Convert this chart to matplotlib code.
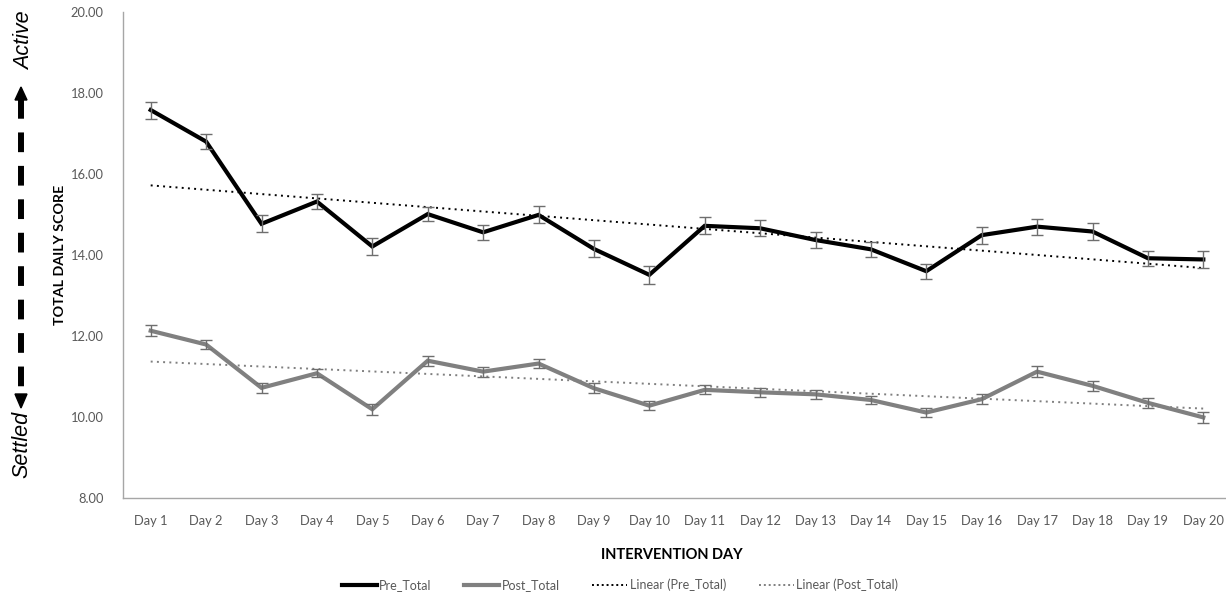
import numpy as np
import matplotlib
matplotlib.use("Agg")
import matplotlib.pyplot as plt
from matplotlib.lines import Line2D
from matplotlib.patches import Polygon

# Daily scores (mean) with standard error, by intervention day
days = [f"Day {i}" for i in range(1, 21)]
pre_total = [17.58, 16.80, 14.77, 15.32, 14.21, 15.01, 14.56, 14.99, 14.15, 13.51,
             14.72, 14.66, 14.37, 14.14, 13.60, 14.49, 14.70, 14.58, 13.92, 13.89]
pre_err = [0.21, 0.18, 0.21, 0.19, 0.20, 0.18, 0.19, 0.21, 0.21, 0.22,
           0.21, 0.20, 0.20, 0.19, 0.19, 0.21, 0.20, 0.20, 0.19, 0.22]
post_total = [12.13, 11.79, 10.72, 11.08, 10.19, 11.39, 11.12, 11.32, 10.71, 10.28,
              10.67, 10.61, 10.56, 10.42, 10.11, 10.44, 11.12, 10.77, 10.35, 9.99]
post_err = [0.13, 0.11, 0.12, 0.10, 0.13, 0.12, 0.12, 0.12, 0.12, 0.11,
            0.11, 0.11, 0.11, 0.11, 0.12, 0.12, 0.13, 0.12, 0.12, 0.13]
y_ticks = [8, 10, 12, 14, 16, 18, 20]

FONT = ["Lato", "DejaVu Sans"]
plt.rcParams["font.family"] = FONT

W, H = 1226, 598
fig = plt.figure(figsize=(W / 100, H / 100), dpi=100)
ax = fig.add_axes([123 / W, 100 / H, 1108 / W, 486 / H])


def fx(px):
    return px / W


def fy(py):
    return 1 - py / H


x = np.arange(1, len(days) + 1)

# Linear trend lines fitted to each series
pre_fit = np.polyval(np.polyfit(x, pre_total, 1), x)
post_fit = np.polyval(np.polyfit(x, post_total, 1), x)
ax.plot(x, pre_fit, color="black", lw=1.4, ls=(0, (1, 2.2)), zorder=2)
ax.plot(x, post_fit, color="#7f7f7f", lw=1.4, ls=(0, (1, 2.2)), zorder=2)

ax.plot(x, pre_total, color="black", lw=3, zorder=3, solid_joinstyle="miter")
ax.plot(x, post_total, color="#808080", lw=3, zorder=3, solid_joinstyle="miter")
ax.errorbar(x, pre_total, yerr=pre_err, fmt="none", ecolor="#6e6e6e",
            elinewidth=1, capsize=4, capthick=1, zorder=4)
ax.errorbar(x, post_total, yerr=post_err, fmt="none", ecolor="#6e6e6e",
            elinewidth=1, capsize=4, capthick=1, zorder=4)

ax.set_xlim(0.5, 20.5)
ax.set_ylim(8, 20)
ax.set_yticks(y_ticks)
ax.set_yticklabels([f"{v:.2f}" for v in y_ticks])
ax.set_xticks(x)
ax.set_xticklabels(days)
ax.tick_params(axis="both", length=0, labelsize=9.3, labelcolor="#595959")
ax.tick_params(axis="y", pad=14)
ax.tick_params(axis="x", pad=12)
for s in ("top", "right"):
    ax.spines[s].set_visible(False)
for s in ("left", "bottom"):
    ax.spines[s].set_color("#a6a6a6")
    ax.spines[s].set_linewidth(1)

ax.set_ylabel("TOTAL DAILY SCORE", fontsize=10.3, fontweight="bold")
ax.yaxis.set_label_coords(-57 / 1108, 0.5)
fig.text(fx(672), fy(555), "INTERVENTION DAY", fontsize=10.5,
         fontweight="bold", ha="center", va="center")

# Direction guide on the far left: Settled <-> Active
side_font = ["Liberation Sans", "DejaVu Sans"]
fig.text(fx(25), fy(11), "Active", rotation=90, style="italic",
         fontsize=15.5, ha="center", va="top", family=side_font)
fig.text(fx(22), fy(411), "Settled", rotation=90, style="italic",
         fontsize=15.5, ha="center", va="top", family=side_font)
fig.add_artist(Line2D([fx(21), fx(21)], [fy(99), fy(394)],
                      color="black", lw=4.3, ls=(0, (3.3, 2.3)),
                      solid_capstyle="butt", dash_capstyle="butt"))
fig.add_artist(Polygon([[fx(21), fy(87)], [fx(15), fy(100)], [fx(27), fy(100)]],
                       closed=True, color="black", transform=fig.transFigure))
fig.add_artist(Polygon([[fx(21), fy(408)], [fx(15), fy(394)], [fx(27), fy(394)]],
                       closed=True, color="black", transform=fig.transFigure))

handles = [
    Line2D([], [], color="black", lw=3),
    Line2D([], [], color="#808080", lw=3),
    Line2D([], [], color="black", lw=1.4, ls=(0, (1, 1.5))),
    Line2D([], [], color="#7f7f7f", lw=1.4, ls=(0, (1, 1.5))),
]
labels = ["Pre_Total", "Post_Total", "Linear (Pre_Total)", "Linear (Post_Total)"]
leg = fig.legend(handles, labels, loc="center", bbox_to_anchor=(fx(620), fy(585)),
                 ncol=4, frameon=False, fontsize=9, handlelength=2.8,
                 handletextpad=0.2, columnspacing=2.6)
for t in leg.get_texts():
    t.set_color("#595959")

fig.savefig("out.png", dpi=100, facecolor="white")
